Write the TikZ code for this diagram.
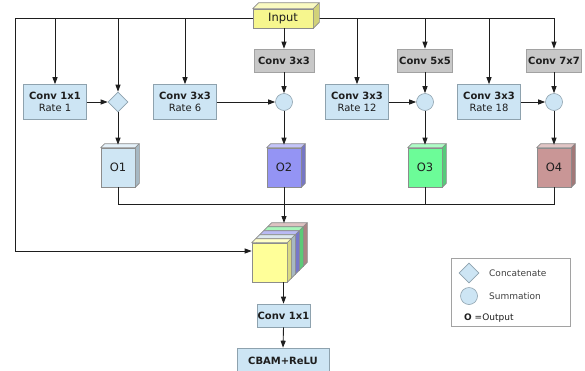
\documentclass[tikz,border=0pt]{standalone}
\usepackage{fontspec}
\setmainfont{DejaVu Sans}
\usetikzlibrary{arrows.meta,shapes.geometric}

\definecolor{ink}{HTML}{1E1E1E}
\definecolor{lb}{HTML}{CDE5F4}
\definecolor{lbedge}{HTML}{8EA2AE}
\definecolor{gbox}{HTML}{C8C8C8}
\definecolor{gedge}{HTML}{A2A2A2}
\definecolor{faceedge}{HTML}{8C8C8C}
\definecolor{inpY}{HTML}{F6F68E}
\definecolor{oA}{HTML}{CFE6F4}
\definecolor{oB}{HTML}{9494F4}
\definecolor{oC}{HTML}{6CFC98}
\definecolor{oD}{HTML}{C99696}
\definecolor{sY}{HTML}{FFFF99}
\definecolor{sL}{HTML}{C4D8E4}
\definecolor{sB}{HTML}{8C8CEC}
\definecolor{sG}{HTML}{6CEE8C}
\definecolor{sP}{HTML}{C89A9A}

% top and right faces of a box-shaped node: node, depth, top colour, side colour
\newcommand{\boxfaces}[4]{%
  \filldraw[fill=#3,draw=faceedge,line width=0.6pt,line join=round]
    (#1.north west) -- ++(#2,-#2) -- ([shift={(#2,-#2)}]#1.north east) -- (#1.north east) -- cycle;
  \filldraw[fill=#4,draw=faceedge,line width=0.6pt,line join=round]
    (#1.north east) -- ++(#2,-#2) -- ([shift={(#2,-#2)}]#1.south east) -- (#1.south east) -- cycle;
}

\tikzset{
  line/.style={draw=ink,line width=0.9pt},
  arr/.style={line,-{Triangle[length=7pt,width=5pt]}},
  conv/.style={draw=lbedge,fill=lb,line width=0.6pt,minimum width=63pt,minimum height=35pt,
    inner sep=0pt,align=center,text=ink,font=\fontsize{10}{12.5}\selectfont},
  gconv/.style={draw=gedge,fill=gbox,line width=0.6pt,minimum width=60pt,minimum height=23pt,
    inner sep=0pt,text=ink,font=\fontsize{10}{12}\selectfont\bfseries},
  cat/.style={diamond,aspect=1,draw=lbedge,fill=lb,line width=0.6pt,minimum width=20pt,
    minimum height=20pt,inner sep=0pt},
  sum/.style={circle,draw=lbedge,fill=lb,line width=0.6pt,minimum size=17pt,inner sep=0pt},
  outbox/.style={draw=faceedge,line width=0.6pt,minimum width=34pt,minimum height=39pt,
    inner sep=0pt,text=ink,font=\fontsize{11.5}{13}\selectfont},
  slab/.style={draw=faceedge,line width=0.6pt,minimum width=35pt,minimum height=39pt,inner sep=0pt},
  legtext/.style={anchor=west,inner sep=0pt,text=ink!85,font=\fontsize{9}{11}\selectfont},
}

\begin{document}
\begin{tikzpicture}[x=1pt,y=-1pt]
\useasboundingbox (0,0) rectangle (585,370);
\clip (0,0) rectangle (585,370);

% trunk from the input
\coordinate (mainL) at (15,18);
\coordinate (mainR) at (554,18);
\coordinate (lft) at (15,251);
\coordinate (busL) at (118,204);
\coordinate (busR) at (554,204);
\coordinate (stk) at (284,223);
\draw[line] (mainL) -- (mainR);

% input block
\node[draw=faceedge,fill=inpY,line width=0.6pt,minimum width=60pt,minimum height=19pt,inner sep=0pt,
  text=ink,font=\fontsize{11.5}{13}\selectfont] (inp) at (283,18.5) {Input};
\boxfaces{inp}{6}{inpY!55!white}{inpY!85!black}

% branch convolutions
\node[conv] (c1) at (55,102) {\textbf{Conv 1x1}\\Rate 1};
\node[conv] (c2) at (185,102) {\textbf{Conv 3x3}\\Rate 6};
\node[conv] (c3) at (357,102) {\textbf{Conv 3x3}\\Rate 12};
\node[conv] (c4) at (489,102) {\textbf{Conv 3x3}\\Rate 18};

\node[gconv] (g2) at (284,60.5) {Conv 3x3};
\node[gconv,minimum width=55pt] (g3) at (425,60.5) {Conv 5x5};
\node[gconv,minimum width=55pt] (g4) at (554,60.5) {Conv 7x7};

% merge nodes
\node[cat] (d1) at (118,102) {};
\node[sum] (s2) at (284,102) {};
\node[sum] (s3) at (425,102) {};
\node[sum] (s4) at (554,102) {};

% branch outputs
\node[outbox,fill=oA] (o1) at (118,167.5) {O1};
\boxfaces{o1}{4}{oA!55!white}{oA!80!black}
\node[outbox,fill=oB] (o2) at (284,167.5) {O2};
\boxfaces{o2}{4}{oB!55!white}{oB!80!black}
\node[outbox,fill=oC] (o3) at (425,167.5) {O3};
\boxfaces{o3}{4}{oC!55!white}{oC!80!black}
\node[outbox,fill=oD] (o4) at (554,167.5) {O4};
\boxfaces{o4}{4}{oD!55!white}{oD!80!black}

% concatenated feature stack, back to front
\node[slab,fill=sP] (k4) at (285.5,246.5) {};
\boxfaces{k4}{4}{sP!60!white}{sP!85!black}
\node[slab,fill=sG] (k3) at (281.5,250.5) {};
\boxfaces{k3}{4}{sG!60!white}{sG!85!black}
\node[slab,fill=sB] (k2) at (277.5,254.5) {};
\boxfaces{k2}{4}{sB!60!white}{sB!85!black}
\node[slab,fill=sL] (k1) at (273.5,258.5) {};
\boxfaces{k1}{4}{sL!60!white}{sL!85!black}
\node[slab,fill=sY] (k0) at (269.5,262.5) {};
\boxfaces{k0}{4}{sY!55!white}{sY!85!black}

% head
\node[conv,minimum width=53pt,minimum height=23pt] (f1) at (283.5,315.5) {\textbf{Conv 1x1}};
\node[conv,minimum width=92pt,minimum height=26pt] (f2) at (283,361) {\textbf{CBAM+ReLU}};

% connectors
\draw[arr] (c1.north |- mainL) -- (c1.north);
\draw[arr] (d1.north |- mainL) -- (d1.north);
\draw[arr] (c2.north |- mainL) -- (c2.north);
\draw[arr] (inp.south -| g2.north) -- (g2.north);
\draw[arr] (c3.north |- mainL) -- (c3.north);
\draw[arr] (g3.north |- mainL) -- (g3.north);
\draw[arr] (c4.north |- mainL) -- (c4.north);
\draw[arr] (mainR) -- (g4.north);

\draw[arr] (c1.east) -- (d1.west);
\draw[arr] (c2.east) -- (s2.west);
\draw[arr] (c3.east) -- (s3.west);
\draw[arr] (c4.east) -- (s4.west);
\draw[arr] (g2.south) -- (s2.north);
\draw[arr] (g3.south) -- (s3.north);
\draw[arr] (g4.south) -- (s4.north);

\draw[arr] (d1.south) -- ([yshift=3pt]o1.north);
\draw[arr] (s2.south) -- ([yshift=3pt]o2.north);
\draw[arr] (s3.south) -- ([yshift=3pt]o3.north);
\draw[arr] (s4.south) -- ([yshift=3pt]o4.north);

\draw[line] (o1.south) -- (busL) -- (busR) -- (o4.south);
\draw[line] (o3.south) -- (o3.south |- busL);
\draw[arr] (o2.south) -- (stk);

\draw[arr] (mainL) -- (lft) -- (lft -| k0.west);
\draw[arr] (f1.north |- k0.south) -- (f1.north);
\draw[arr] (f1.south) -- (f2.north);

% legend
\node[draw=gedge,fill=white,line width=0.6pt,minimum width=119pt,minimum height=68pt] (leg) at (510.5,292) {};
\node[cat] (lcat) at (469,273) {};
\node[legtext] (lcatt) at (489,273) {Concatenate};
\node[sum] (lsum) at (469,296) {};
\node[legtext] (lsumt) at (489,296) {Summation};
\node[legtext,text=ink] (lout) at (464,318) {\textbf{O} =Output};
\end{tikzpicture}
\end{document}
